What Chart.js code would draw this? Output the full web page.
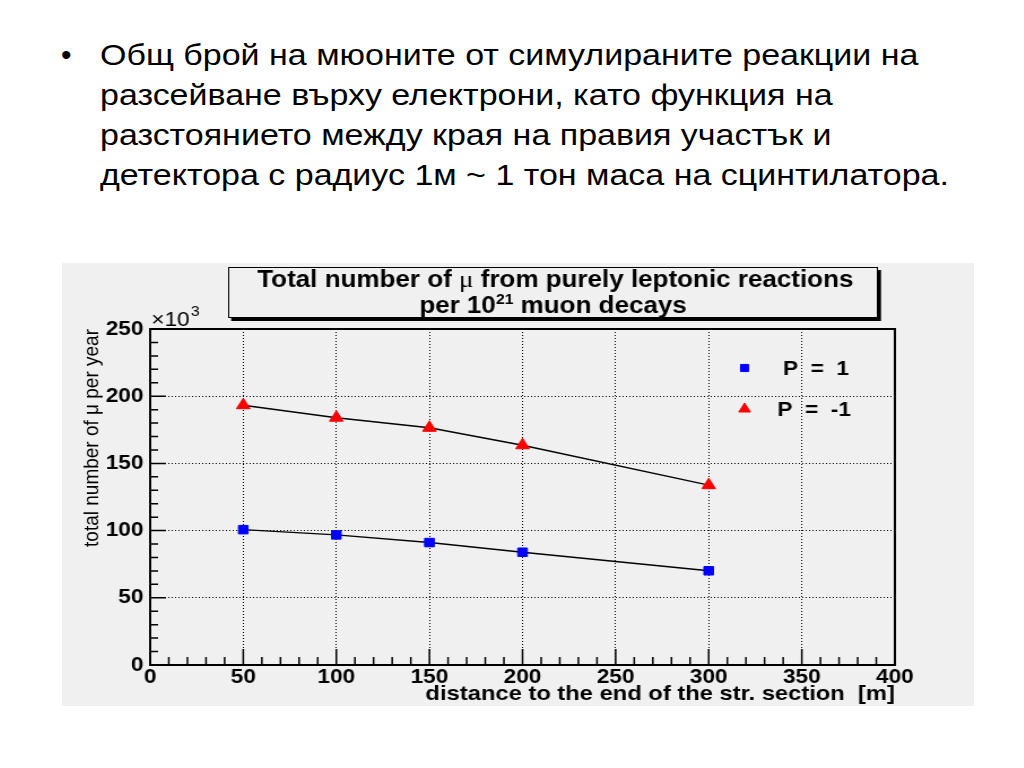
<!DOCTYPE html>
<html>
<head>
<meta charset="utf-8">
<script src="https://cdn.jsdelivr.net/npm/chart.js@4.4.0/dist/chart.umd.min.js"></script>
<style>
    body { margin: 0; background: #fff; width: 1024px; height: 768px; overflow: hidden; position: relative;
           font-family: 'Liberation Sans', Arial, sans-serif; color: #000; }
    #bullet { position: absolute; left: 61px; top: 35px; font-size: 30px; line-height: 40px; }
    #text { position: absolute; left: 100px; top: 35px; font-size: 30px; line-height: 40px; white-space: nowrap;
            transform: scaleX(1.133); transform-origin: 0 0; }
    #panel { position: absolute; left: 62px; top: 263px; width: 912px; height: 443px; background: #f0f0f0; }
    /* the reference picture is stretched sideways, so is the canvas */
    #chart { width: 912px !important; height: 443px !important; display: block; }
</style>
</head>
<body>
<div id="bullet">•</div>
<div id="text">Общ брой на мюоните от симулираните реакции на<br>разсейване върху електрони, като функция на<br>разстоянието между края на правия участък и<br>детектора с радиус 1м ~ 1 тон маса на сцинтилатора.</div>
<div id="panel"><canvas id="chart" width="807" height="443"></canvas></div>

<script>
// distance to the end of the straight section [m]
const distances = [50, 100, 150, 200, 300];
// total number of mu per year (x10^3)
const muonsPplus = [100.7, 96.8, 91.1, 83.9, 70.1];
const muonsPminus = [193.3, 184.0, 176.5, 163.5, 133.8];
const seriesLabels = ['P = 1', 'P = -1'];
const xRange = [0, 400];
const yRange = [0, 250];

const tickFont = { family: "'Liberation Sans', Arial, sans-serif", size: 20, weight: 'bold' };

// ROOT-like decorations: frame, inward ticks, title box, legend
const rootDecor = {
    id: 'rootDecor',
    afterDraw(chart) {
        const ctx = chart.ctx;
        const area = chart.chartArea;
        const xs = chart.scales.x;
        const ys = chart.scales.y;
        ctx.save();

        // frame
        ctx.strokeStyle = '#000';
        ctx.lineWidth = 2;
        ctx.strokeRect(area.left, area.top, area.right - area.left, area.bottom - area.top);

        // inward ticks
        ctx.lineWidth = 1.5;
        ctx.beginPath();
        for (let v = xRange[0]; v <= xRange[1]; v += 10) {
            const px = xs.getPixelForValue(v);
            const len = v % 50 === 0 ? 16 : 8;
            ctx.moveTo(px, area.bottom);
            ctx.lineTo(px, area.bottom - len);
        }
        for (let v = yRange[0]; v <= yRange[1]; v += 10) {
            const py = ys.getPixelForValue(v);
            const len = v % 50 === 0 ? 14 : 7;
            ctx.moveTo(area.left, py);
            ctx.lineTo(area.left + len, py);
        }
        ctx.stroke();

        // x10^3 exponent
        ctx.fillStyle = '#000';
        ctx.textBaseline = 'alphabetic';
        ctx.textAlign = 'left';
        ctx.font = "20px 'Liberation Sans', Arial, sans-serif";
        ctx.fillText('×10', area.left + 1, area.top - 3);
        const w10 = ctx.measureText('×10').width;
        ctx.font = "14px 'Liberation Sans', Arial, sans-serif";
        ctx.fillText('3', area.left + 1 + w10 + 1, area.top - 13);

        // title box with shadow
        const bx = 147, by = 4, bw = 575, bh = 51;
        ctx.fillStyle = '#000';
        ctx.fillRect(bx + 2.7, by + 3, bw, bh);
        ctx.fillStyle = '#f0f0f0';
        ctx.fillRect(bx, by, bw, bh);
        ctx.lineWidth = 1;
        ctx.strokeStyle = '#000';
        ctx.strokeRect(bx + 0.5, by + 0.5, bw - 1, bh - 1);

        const bold = "bold 23px 'Liberation Sans', Arial, sans-serif";
        const serif = "24px 'Liberation Serif', 'DejaVu Serif', serif";
        const small = "bold 14px 'Liberation Sans', Arial, sans-serif";
        const drawRuns = (runs, cx, y) => {
            let total = 0;
            runs.forEach(r => { ctx.font = r.font; r.w = ctx.measureText(r.t).width; total += r.w; });
            let x = cx - total / 2;
            runs.forEach(r => { ctx.font = r.font; ctx.fillText(r.t, x, y + (r.dy || 0)); x += r.w; });
        };
        ctx.fillStyle = '#000';
        drawRuns([
            { t: 'Total number of ', font: bold },
            { t: 'μ', font: serif },
            { t: ' from purely leptonic reactions', font: bold }
        ], bx + bw / 2 + 2, by + 20);
        drawRuns([
            { t: 'per 10', font: bold },
            { t: '21', font: small, dy: -9 },
            { t: ' muon decays', font: bold }
        ], bx + bw / 2, by + 46);

        // legend
        const items = [
            { ds: chart.data.datasets[0], x: 604, y: 105, tx: 638 },
            { ds: chart.data.datasets[1], x: 604, y: 146, tx: 633 }
        ];
        items.forEach(it => {
            ctx.fillStyle = it.ds.pointBackgroundColor;
            ctx.strokeStyle = it.ds.pointBorderColor;
            Chart.helpers.drawPoint(ctx, {
                pointStyle: it.ds.pointStyle,
                radius: it.ds.pointRadius - 1,
                borderWidth: 1,
                rotation: 0
            }, it.x, it.y);
            ctx.fillStyle = '#000';
            ctx.font = "bold 20px 'Liberation Sans', Arial, sans-serif";
            ctx.textBaseline = 'middle';
            ctx.fillText(it.ds.label.replace(/ /g, '  '), it.tx, it.y + 1);
            ctx.textBaseline = 'alphabetic';
        });

        ctx.restore();
    }
};

const ctx = document.getElementById('chart').getContext('2d');

new Chart(ctx, {
    type: 'scatter',
    data: {
        datasets: [{
            label: seriesLabels[0],
            data: distances.map((d, i) => ({ x: d, y: muonsPplus[i] })),
            showLine: true,
            borderColor: '#000',
            borderWidth: 1.4,
            pointStyle: 'rect',
            pointRadius: 6,
            pointBackgroundColor: '#0000ff',
            pointBorderColor: '#0000ff',
            pointBorderWidth: 1
        }, {
            label: seriesLabels[1],
            data: distances.map((d, i) => ({ x: d, y: muonsPminus[i] })),
            showLine: true,
            borderColor: '#000',
            borderWidth: 1.4,
            pointStyle: 'triangle',
            pointRadius: 7,
            pointBackgroundColor: '#ff0000',
            pointBorderColor: '#ff0000',
            pointBorderWidth: 1
        }]
    },
    options: {
        responsive: false,
        devicePixelRatio: 1,
        animation: false,
        layout: {
            padding: { top: 66, right: 70, left: 0, bottom: 0 }
        },
        scales: {
            x: {
                type: 'linear',
                min: xRange[0],
                max: xRange[1],
                afterFit: scale => { scale.height = 41; },
                ticks: {
                    stepSize: 50,
                    color: '#000',
                    padding: 0,
                    font: tickFont
                },
                grid: {
                    color: '#000',
                    lineWidth: 1,
                    drawTicks: false
                },
                border: { display: true, color: '#000', width: 2, dash: [1, 2] },
                title: {
                    display: true,
                    text: 'distance to the end of the str. section  [m]',
                    align: 'end',
                    color: '#000',
                    padding: { top: 0, bottom: -1 },
                    font: { family: "'Liberation Sans', Arial, sans-serif", size: 21, weight: 'bold' }
                }
            },
            y: {
                min: yRange[0],
                max: yRange[1],
                afterFit: scale => { scale.width = 78; },
                ticks: {
                    stepSize: 50,
                    color: '#000',
                    padding: 6,
                    font: tickFont
                },
                grid: {
                    color: '#000',
                    lineWidth: 1,
                    drawTicks: false
                },
                border: { display: true, color: '#000', width: 2, dash: [1, 2] },
                title: {
                    display: true,
                    text: 'total number of μ per year',
                    align: 'end',
                    color: '#000',
                    padding: { top: 15, bottom: 0 },
                    font: { family: "'Liberation Sans Narrow', 'Liberation Sans', sans-serif", size: 19, weight: 'normal' }
                }
            }
        },
        plugins: {
            legend: { display: false },
            tooltip: { enabled: false }
        }
    },
    plugins: [rootDecor]
});
</script>
</body>
</html>
